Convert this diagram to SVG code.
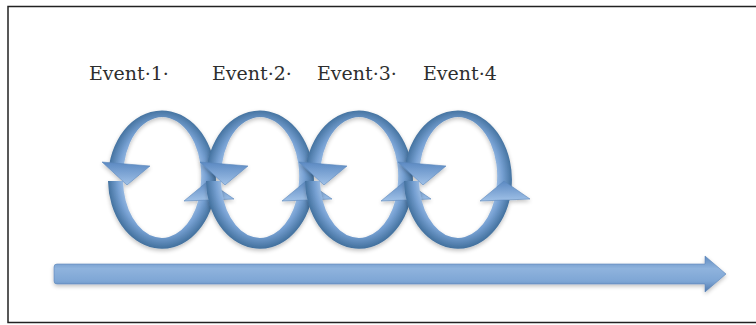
<svg xmlns="http://www.w3.org/2000/svg" width="756" height="325" viewBox="0 0 756 325">
  <defs>
    <!-- ring shading, in each ring's local coordinates (centre at 0,0) -->
    <radialGradient id="ringShade" gradientUnits="userSpaceOnUse" cx="0" cy="0" r="54" gradientTransform="scale(1,1.28)">
      <stop offset="0.68" stop-color="#a4c3e8"/>
      <stop offset="0.82" stop-color="#77a1d3"/>
      <stop offset="1" stop-color="#44729f"/>
    </radialGradient>
    <linearGradient id="headShade" x1="0" y1="0" x2="0" y2="1">
      <stop offset="0" stop-color="#5b89c2"/>
      <stop offset="1" stop-color="#a0c1e7"/>
    </linearGradient>
    <linearGradient id="barShade" x1="0" y1="0" x2="0" y2="1">
      <stop offset="0" stop-color="#5e8abf"/>
      <stop offset="0.35" stop-color="#8fb3dd"/>
      <stop offset="0.7" stop-color="#7ea6d5"/>
      <stop offset="1" stop-color="#5079ad"/>
    </linearGradient>
    <filter id="soft" x="-10%" y="-10%" width="120%" height="130%">
      <feGaussianBlur in="SourceAlpha" stdDeviation="2"/>
      <feOffset dy="2"/>
      <feComponentTransfer><feFuncA type="linear" slope="0.25"/></feComponentTransfer>
      <feMerge><feMergeNode/><feMergeNode in="SourceGraphic"/></feMerge>
    </filter>
    <!-- one cycle: upper ribbon (arrow down on the left), lower ribbon (arrow up on the right) -->
    <g id="cycle">
      <path d="M 53.6 8 A 54 69 0 0 0 -52.7 -15 L -38 -15 A 39 59 0 0 1 38.5 8 Z" fill="url(#ringShade)"/>
      <path d="M -54 2 A 54 69 0 0 0 51.6 21 L 36.4 21 A 39 59 0 0 1 -39 2 Z" fill="url(#ringShade)"/>
      <polygon points="-60,-17 -12,-13 -35,6" fill="url(#headShade)" stroke="#5a86bb" stroke-width="0.6"/>
      <polygon points="22,22 46,2 72,20" fill="url(#headShade)" stroke="#5a86bb" stroke-width="0.6"/>
    </g>
    <style>
      .label { font-family: "DejaVu Serif", "Liberation Serif", serif; font-size: 19px; fill: #2e2e2e; }
    </style>
  </defs>

  <rect x="0" y="0" width="756" height="325" fill="#ffffff"/>
  <!-- frame: open on the right -->
  <path d="M 760 6.5 H 8 V 322.5 H 760" fill="none" stroke="#222222" stroke-width="1.5"/>

  <g id="event1">
    <text class="label" x="89" y="80">Event·1·</text>
    <use href="#cycle" transform="translate(162,179)" filter="url(#soft)"/>
  </g>
  <g id="event2">
    <text class="label" x="212" y="80">Event·2·</text>
    <use href="#cycle" transform="translate(260,179)" filter="url(#soft)"/>
  </g>
  <g id="event3">
    <text class="label" x="317" y="80">Event·3·</text>
    <use href="#cycle" transform="translate(359,179)" filter="url(#soft)"/>
  </g>
  <g id="event4">
    <text class="label" x="423" y="80">Event·4</text>
    <use href="#cycle" transform="translate(458,179)" filter="url(#soft)"/>
  </g>

  <g id="connectors">
    <!-- timeline arrow -->
    <path d="M 57 264 H 705 V 256 L 726 274 L 705 292 V 284 H 57 Q 54 284 54 281 V 267 Q 54 264 57 264 Z" fill="url(#barShade)" stroke="#5a84b8" stroke-width="0.6" filter="url(#soft)"/>
  </g>
</svg>
